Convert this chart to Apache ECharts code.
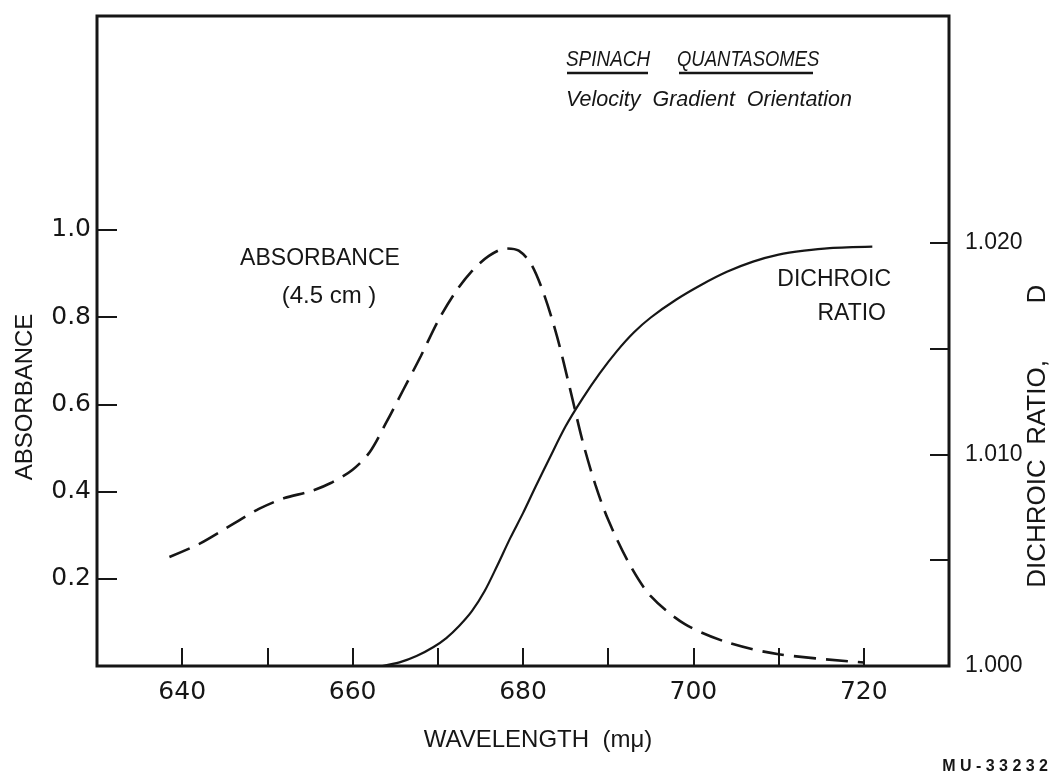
<!DOCTYPE html>
<html>
<head>
<meta charset="utf-8">
<title>Spinach quantasomes</title>
<script src="https://cdn.jsdelivr.net/npm/echarts@6/dist/echarts.min.js"></script>
<style>
  html, body { margin: 0; padding: 0; background: #fff; }
  #chart { width: 1060px; height: 775px; }
</style>
</head>
<body>
<div id="chart"></div>
<script>
// absorbance (dashed)
let absWavelength = [638.5, 642, 645.5, 649, 652, 655, 657.5, 660, 662, 664, 666, 668, 670, 672, 674, 676, 678,
                     679.5, 681, 682.5, 684, 685.5, 687, 688.5, 690, 692.4, 695, 699, 704, 710, 720];
let absValues = [0.25, 0.28, 0.32, 0.36, 0.385, 0.40, 0.42, 0.45, 0.49, 0.56, 0.635, 0.71, 0.79, 0.855, 0.905, 0.94, 0.957,
                 0.952, 0.92, 0.85, 0.755, 0.637, 0.515, 0.415, 0.335, 0.237, 0.16, 0.096, 0.054, 0.027, 0.008];

// dichroic ratio D (solid)
let dichroicWavelength = [663.5, 665.5, 667.5, 669.5, 671, 672.5, 674, 675.5, 677, 678.5, 680, 681.5, 683, 685, 687,
                          689, 691, 693, 695, 698, 701, 704, 707, 710, 713, 716, 721];
let dichroicValues = [1.0, 1.00017, 1.00047, 1.0009, 1.00132, 1.00189, 1.00259, 1.00354, 1.00476, 1.00604, 1.00722,
                      1.00849, 1.00972, 1.01132, 1.01264, 1.01382, 1.01486, 1.01575, 1.01646, 1.01731, 1.01802,
                      1.01863, 1.0191, 1.01943, 1.01962, 1.01974, 1.01981];

// axis ticks / labels
let xTicks = [640, 650, 660, 670, 680, 690, 700, 710, 720];
let xLabels = [640, 660, 680, 700, 720];
let absTicks = [0.2, 0.4, 0.6, 0.8, 1.0];
let ratioTicks = [1.005, 1.010, 1.015, 1.020];
let ratioLabels = [1.000, 1.010, 1.020];

const ink = '#161616';
const letterFont = "'Liberation Sans', Arial, sans-serif";
const numFont = "'DejaVu Sans', sans-serif";

let chart = echarts.init(document.getElementById('chart'));

let option = {
    animation: false,
    backgroundColor: '#fff',
    grid: {
        left: 97,
        right: 111,
        top: 16,
        bottom: 109,
        show: true,
        borderColor: ink,
        borderWidth: 3
    },
    xAxis: {
        type: 'value',
        min: 630,
        max: 730,
        interval: 10,
        name: 'WAVELENGTH  (mμ)',
        nameLocation: 'middle',
        nameGap: 62,
        nameTextStyle: { fontFamily: letterFont, fontSize: 24, color: ink, padding: [0, 0, 0, 30] },
        axisLine: { show: false },
        splitLine: { show: false },
        axisTick: {
            inside: true,
            length: 18,
            customValues: xTicks,
            lineStyle: { color: ink, width: 2 }
        },
        axisLabel: {
            customValues: xLabels,
            margin: 14,
            fontFamily: numFont,
            fontSize: 25,
            color: ink
        }
    },
    yAxis: [
        {
            type: 'value',
            min: 0,
            max: 1.49,
            position: 'left',
            axisLine: { show: false },
            splitLine: { show: false },
            axisTick: {
                inside: true,
                length: 20,
                customValues: absTicks,
                lineStyle: { color: ink, width: 2 }
            },
            axisLabel: {
                customValues: absTicks,
                margin: 6,
                fontFamily: numFont,
                fontSize: 25,
                color: ink,
                formatter: v => v.toFixed(1)
            }
        },
        {
            type: 'value',
            min: 1.0,
            max: 1.0307,
            position: 'right',
            axisLine: { show: false },
            splitLine: { show: false },
            axisTick: {
                inside: true,
                length: 19,
                customValues: ratioTicks,
                lineStyle: { color: ink, width: 2 }
            },
            axisLabel: {
                customValues: ratioLabels,
                margin: 16,
                fontFamily: letterFont,
                fontSize: 23,
                color: ink,
                formatter: v => v.toFixed(3)
            }
        }
    ],
    series: [
        {
            name: 'Absorbance (4.5 cm)',
            type: 'line',
            yAxisIndex: 0,
            smooth: 0.3,
            showSymbol: false,
            lineStyle: { color: ink, width: 2.6, type: [22, 10] },
            data: absWavelength.map((w, i) => [w, absValues[i]])
        },
        {
            name: 'Dichroic ratio',
            type: 'line',
            yAxisIndex: 1,
            smooth: 0.3,
            showSymbol: false,
            lineStyle: { color: ink, width: 2.2 },
            data: dichroicWavelength.map((w, i) => [w, dichroicValues[i]])
        }
    ],
    graphic: [
        // title block
        { type: 'text', x: 566, y: 60, scaleX: 0.86, style: { text: 'SPINACH', verticalAlign: 'middle', fontFamily: letterFont, fontStyle: 'italic', fontSize: 22, fill: ink } },
        { type: 'text', x: 677, y: 60, scaleX: 0.84, style: { text: 'QUANTASOMES', verticalAlign: 'middle', fontFamily: letterFont, fontStyle: 'italic', fontSize: 22, fill: ink } },
        { type: 'line', shape: { x1: 567, y1: 73, x2: 648, y2: 73 }, style: { stroke: ink, lineWidth: 2.5 } },
        { type: 'line', shape: { x1: 679, y1: 73, x2: 813, y2: 73 }, style: { stroke: ink, lineWidth: 2.5 } },
        { type: 'text', x: 566, y: 100, style: { text: 'Velocity  Gradient  Orientation', verticalAlign: 'middle', fontFamily: letterFont, fontStyle: 'italic', fontSize: 21.5, fill: ink } },

        // curve labels
        { type: 'text', x: 320, y: 259, style: { text: 'ABSORBANCE', align: 'center', verticalAlign: 'middle', fontFamily: letterFont, fontSize: 23, fill: ink } },
        { type: 'text', x: 329, y: 296, style: { text: '(4.5 cm )', align: 'center', verticalAlign: 'middle', fontFamily: letterFont, fontSize: 24, fill: ink } },
        { type: 'text', x: 891, y: 280, style: { text: 'DICHROIC', align: 'right', verticalAlign: 'middle', fontFamily: letterFont, fontSize: 23, fill: ink } },
        { type: 'text', x: 886, y: 314, style: { text: 'RATIO', align: 'right', verticalAlign: 'middle', fontFamily: letterFont, fontSize: 23, fill: ink } },

        // axis titles
        { type: 'text', x: 25, y: 397, rotation: Math.PI / 2, style: { text: 'ABSORBANCE', align: 'center', verticalAlign: 'middle', fontFamily: letterFont, fontSize: 24, fill: ink } },
        { type: 'text', x: 1038, y: 474, rotation: Math.PI / 2, style: { text: 'DICHROIC  RATIO,', align: 'center', verticalAlign: 'middle', fontFamily: letterFont, fontSize: 26, fill: ink } },
        { type: 'text', x: 1038, y: 294, rotation: Math.PI / 2, style: { text: 'D', align: 'center', verticalAlign: 'middle', fontFamily: letterFont, fontSize: 26, fill: ink } },

        // figure number
        { type: 'text', x: 1048, y: 767, style: { text: 'M U - 3 3 2 3 2', align: 'right', verticalAlign: 'middle', fontFamily: letterFont, fontWeight: 'bold', fontSize: 16, fill: ink } }
    ]
};

chart.setOption(option);
</script>
</body>
</html>
